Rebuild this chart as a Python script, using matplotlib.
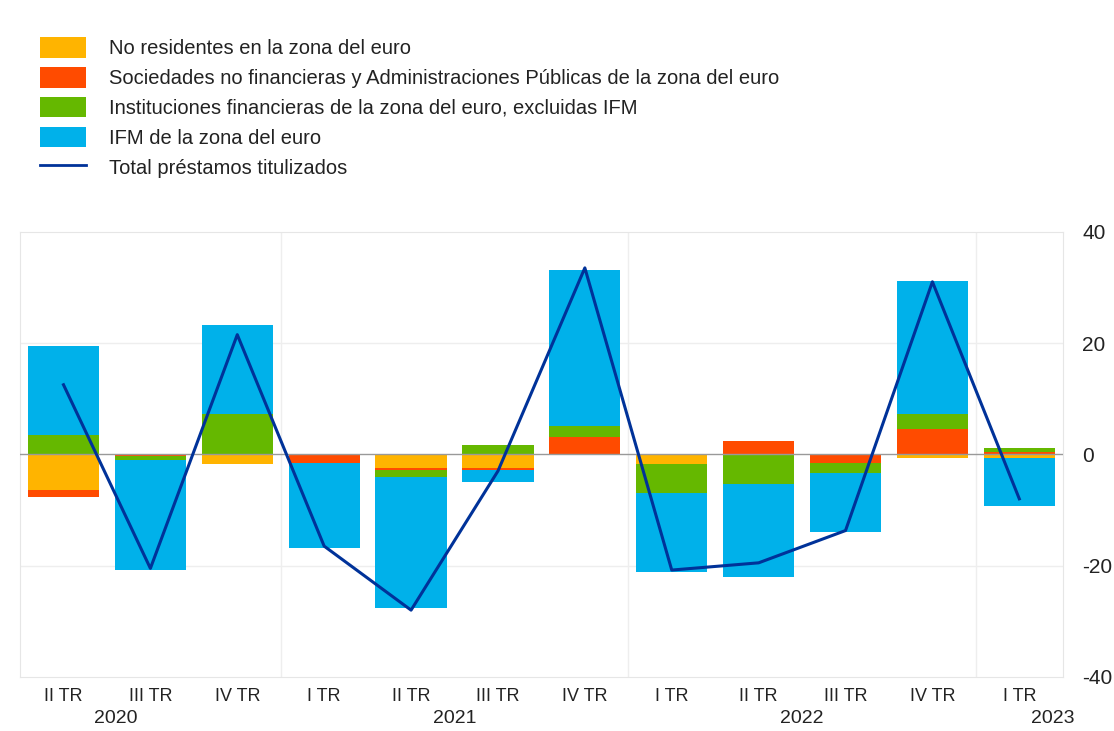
import matplotlib
matplotlib.use("Agg")
import matplotlib.pyplot as plt
import numpy as np
from matplotlib.patches import Patch
from matplotlib.lines import Line2D

plt.rcParams['font.family'] = ['Liberation Sans', 'DejaVu Sans']
plt.rcParams['axes.unicode_minus'] = False

quarters = ["II TR", "III TR", "IV TR", "I TR", "II TR", "III TR", "IV TR",
            "I TR", "II TR", "III TR", "IV TR", "I TR"]
years = ["2020", "2021", "2022", "2023"]
year_pos = [0.6, 4.5, 8.5, 11.38]

# components (stacked), euro area securitised loans
no_residentes = [-6.4, 0.0, -1.7, 0.0, -2.4, -2.5, 0.0, -1.8, 0.0, 0.0, -0.6, -0.6]
sociedades = [-1.2, -0.3, 0.0, -1.6, -0.4, -0.4, 3.2, 0.0, 2.4, -1.5, 4.5, 0.4]
instituciones = [3.4, -0.8, 7.3, 0.0, -1.3, 1.6, 1.9, -5.2, -5.4, -1.8, 2.8, 0.8]
ifm = [16.1, -19.7, 15.9, -15.2, -23.6, -2.0, 28.0, -14.1, -16.6, -10.7, 23.9, -8.7]
total = [12.5, -20.5, 21.5, -16.5, -28.0, -3.0, 33.5, -20.8, -19.5, -13.7, 31.0, -8.0]

labels = ["No residentes en la zona del euro",
          "Sociedades no financieras y Administraciones Públicas de la zona del euro",
          "Instituciones financieras de la zona del euro, excluidas IFM",
          "IFM de la zona del euro"]
colors = ["#FFB400", "#FF4B00", "#65B800", "#00B1EA"]
line_color = "#003299"

fig = plt.figure(figsize=(11.14, 7.31), dpi=100)
ax = fig.add_axes([0.018, 0.074, 0.936, 0.609])

x = np.arange(len(quarters))
pos_base = np.zeros(len(x))
neg_base = np.zeros(len(x))
for series, c in zip([no_residentes, sociedades, instituciones, ifm], colors):
    v = np.array(series)
    base = np.where(v >= 0, pos_base, neg_base)
    ax.bar(x, v, bottom=base, width=0.82, color=c, zorder=2)
    pos_base += np.where(v >= 0, v, 0)
    neg_base += np.where(v < 0, v, 0)

ax.plot(x, total, color=line_color, lw=2.2, zorder=4)

ax.set_xlim(-0.5, 11.5)
ax.set_ylim(-40, 40)
ax.set_yticks([-40, -20, 0, 20, 40])
ax.yaxis.tick_right()
ax.tick_params(axis='y', length=0, labelsize=15, pad=14, colors='#222222')
ax.set_xticks(x)
ax.set_xticklabels(quarters)
ax.tick_params(axis='x', length=0, labelsize=13, pad=8, colors='#222222')
for xp, yr in zip(year_pos, years):
    ax.text(xp, -0.075, yr, transform=ax.get_xaxis_transform(), ha='center',
            va='top', fontsize=14, color='#222222')

for yv in [-20, 20]:
    ax.axhline(yv, color='#eeeeee', lw=1, zorder=0)
ax.axhline(0, color='#999999', lw=1, zorder=3)
for xv in [2.5, 6.5, 10.5]:
    ax.axvline(xv, color='#eeeeee', lw=1, zorder=0)
for s in ax.spines.values():
    s.set_color('#e6e6e6')

handles = [Patch(facecolor=c, label=l) for c, l in zip(colors, labels)]
handles.append(Line2D([0], [0], color=line_color, lw=2, label="Total préstamos titulizados"))
leg = fig.legend(handles=handles, loc='upper left', bbox_to_anchor=(0.029, 0.960),
                 frameon=False, fontsize=14.5, handlelength=2.25, handleheight=1.2,
                 labelspacing=0.43, handletextpad=1.15, borderaxespad=0)
for t in leg.get_texts():
    t.set_color('#222222')

fig.savefig("out.png", dpi=100)
